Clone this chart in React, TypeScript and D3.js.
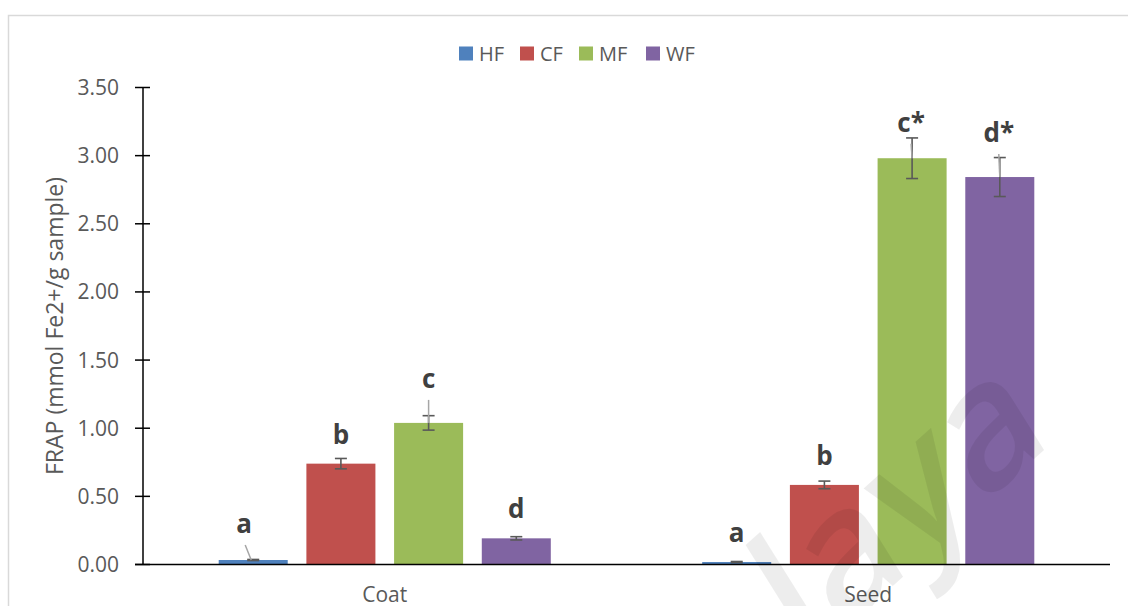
import React from "react";
import * as d3 from "d3";

// FRAP antioxidant capacity by fraction, coat vs seed
const categories = ["Coat", "Seed"];
const seriesNames = ["HF", "CF", "MF", "WF"];
const seriesColors = ["#4F81BD", "#C0504D", "#9BBB59", "#8064A2"];

const hfMeans = [0.033, 0.018];
const hfErrors = [0.004, 0.004];
const cfMeans = [0.74, 0.584];
const cfErrors = [0.038, 0.028];
const mfMeans = [1.039, 2.981];
const mfErrors = [0.053, 0.149];
const wfMeans = [0.192, 2.843];
const wfErrors = [0.012, 0.143];

const hfLetters = ["a", "a"];
const cfLetters = ["b", "b"];
const mfLetters = ["c", "c*"];
const wfLetters = ["d", "d*"];

const yTicks = [0, 0.5, 1, 1.5, 2, 2.5, 3, 3.5];
const yTickLabels = ["0.00", "0.50", "1.00", "1.50", "2.00", "2.50", "3.00", "3.50"];

const yTitle = "FRAP (mmol Fe2+/g sample)";
const watermark = "Malaya";

// label placement relative to bar top: [dx, lift]
const labelPlacement = [
  [[-9, 27], [0, 20]],
  [[0, 20], [0, 20]],
  [[0, 35], [-1, 26.5]],
  [[0, 20], [-1, 35]],
];

const W = 1128;
const H = 606;
const plot = { left: 143, right: 1110, top: 87.5, bottom: 564.5 };
const textGray = "#595959";
const font = "'Open Sans', 'DejaVu Sans', sans-serif";

export default function App() {
  const means = [hfMeans, cfMeans, mfMeans, wfMeans];
  const errors = [hfErrors, cfErrors, mfErrors, wfErrors];
  const letters = [hfLetters, cfLetters, mfLetters, wfLetters];

  const y = d3.scaleLinear().domain([0, 3.5]).range([plot.bottom, plot.top]);
  const x0 = d3.scaleBand<string>().domain(categories).range([plot.left, plot.right]);
  const outer = 75.7;
  const x1 = d3
    .scaleBand<string>()
    .domain(seriesNames)
    .range([outer, x0.bandwidth() - outer])
    .paddingInner(0.213)
    .paddingOuter(0);

  const bw = x1.bandwidth();
  const capHalf = 6;

  const legendX = [459, 520, 579, 646];

  return (
    <svg
      width={W}
      height={H}
      style={{ position: "absolute", left: 0, top: 0, background: "#fff" }}
      fontFamily={font}
    >
      <rect x={0} y={0} width={W} height={H} fill="#fff" />
      {/* chart frame */}
      <rect x={8.5} y={15.5} width={W + 20} height={H + 20} fill="none" stroke="#d9d9d9" strokeWidth={1.5} />

      {/* legend */}
      {seriesNames.map((s, i) => (
        <g key={s}>
          <rect x={legendX[i]} y={46.5} width={14} height={14} fill={seriesColors[i]} />
          <text x={legendX[i] + 20} y={61} fontSize={20} fill={textGray}>
            {s}
          </text>
        </g>
      ))}

      {/* bars */}
      {seriesNames.map((s, si) =>
        categories.map((c, ci) => {
          const v = means[si][ci];
          const bx = (x0(c) as number) + (x1(s) as number);
          return (
            <rect
              key={s + c}
              x={bx}
              y={y(v)}
              width={bw}
              height={plot.bottom - y(v)}
              fill={seriesColors[si]}
            />
          );
        })
      )}

      {/* error bars */}
      {seriesNames.map((s, si) =>
        categories.map((c, ci) => {
          const v = means[si][ci];
          const e = errors[si][ci];
          const cx = (x0(c) as number) + (x1(s) as number) + bw / 2;
          return (
            <g key={"e" + s + c} stroke="#595959" strokeWidth={1.6}>
              <line x1={cx} x2={cx} y1={y(v + e)} y2={y(v - e)} />
              <line x1={cx - capHalf} x2={cx + capHalf} y1={y(v + e)} y2={y(v + e)} />
              <line x1={cx - capHalf} x2={cx + capHalf} y1={y(v - e)} y2={y(v - e)} />
            </g>
          );
        })
      )}

      {/* significance letters with leader lines */}
      {seriesNames.map((s, si) =>
        categories.map((c, ci) => {
          const v = means[si][ci];
          const cx = (x0(c) as number) + (x1(s) as number) + bw / 2;
          const [dx, lift] = labelPlacement[si][ci];
          const ly = y(v) - lift;
          const lx = cx + dx;
          return (
            <g key={"l" + s + c}>
              {lift > 24 && (
                <line
                  x1={lx + (dx < -2 ? 1 : 0)}
                  y1={ly + 12}
                  x2={cx - (dx < -2 ? 2 : 0)}
                  y2={y(v)}
                  stroke="#a6a6a6"
                  strokeWidth={1.5}
                />
              )}
              <text
                x={lx}
                y={ly}
                textAnchor="middle"
                fontSize={26}
                fontWeight="bold"
                fill="#404040"
              >
                {letters[si][ci]}
              </text>
            </g>
          );
        })
      )}

      {/* y axis */}
      <line x1={plot.left} x2={plot.left} y1={plot.top} y2={plot.bottom} stroke="#000" strokeWidth={1.5} />
      {yTicks.map((t, i) => (
        <g key={t}>
          <line x1={plot.left - 8} x2={plot.left + 7} y1={y(t)} y2={y(t)} stroke="#000" strokeWidth={1.5} />
          <text x={119} y={y(t)} dy="0.36em" textAnchor="end" fontSize={21} fill={textGray}>
            {yTickLabels[i]}
          </text>
        </g>
      ))}
      <line x1={plot.left - 8} x2={plot.right} y1={plot.bottom} y2={plot.bottom} stroke="#000" strokeWidth={1.5} />

      {/* category labels */}
      {categories.map((c) => (
        <text
          key={c}
          x={(x0(c) as number) + x0.bandwidth() / 2}
          y={602}
          textAnchor="middle"
          fontSize={21}
          fill={textGray}
        >
          {c}
        </text>
      ))}

      {/* y title */}
      <text
        transform={`translate(63, ${(plot.top + plot.bottom) / 2}) rotate(-90)`}
        textAnchor="middle"
        fontSize={23}
        fill={textGray}
      >
        {yTitle}
      </text>

      {/* repository watermark */}
      <text
        transform="translate(1054, 441) rotate(-42) skewX(-10)"
        textAnchor="end"
        fontSize={170}
        fontWeight={600}
        fill="#000"
        fillOpacity={0.07}
      >
        {watermark}
      </text>
    </svg>
  );
}
